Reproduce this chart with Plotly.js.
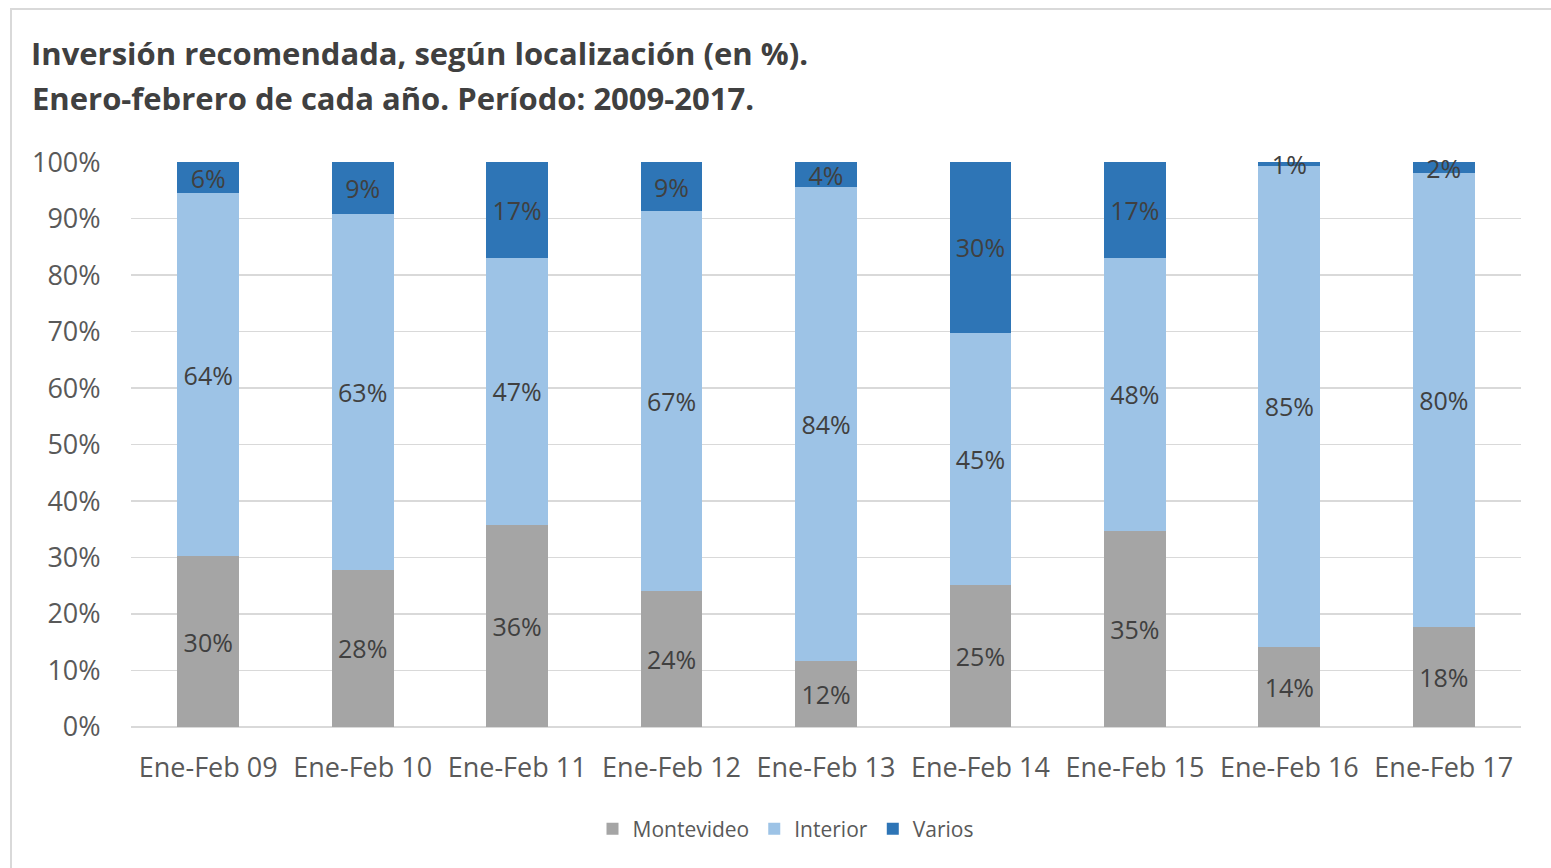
<!DOCTYPE html>
<html>
<head>
<meta charset="utf-8">
<script src="https://cdn.plot.ly/plotly-3.0.1.min.js"></script>
<style>
html,body{margin:0;padding:0;overflow:hidden;background:#fff;}
#chart{width:1551px;height:868px;}
#frame{position:absolute;left:10px;top:8px;width:1560px;height:880px;border:2px solid #d9d9d9;pointer-events:none;box-sizing:border-box;}
</style>
</head>
<body>
<div id="chart"></div>
<div id="frame"></div>
<script>
const categories = ["Ene-Feb 09","Ene-Feb 10","Ene-Feb 11","Ene-Feb 12","Ene-Feb 13","Ene-Feb 14","Ene-Feb 15","Ene-Feb 16","Ene-Feb 17"];
const montevideo = [30.2, 27.8, 35.8, 24.1, 11.6, 25.1, 34.7, 14.2, 17.7];
const interior   = [64.3, 63.0, 47.3, 67.2, 84.0, 44.7, 48.4, 85.2, 80.3];
const varios     = [5.5, 9.2, 16.9, 8.7, 4.4, 30.2, 16.9, 0.6, 2.0];
const seriesNames = ["Montevideo", "Interior", "Varios"];
const yTickVals = [0,10,20,30,40,50,60,70,80,90,100];
const yTickText = yTickVals.map(v => v + "%");

const FONT = "Open Sans, Noto Sans, sans-serif";
const colors = ["#a5a5a5", "#9dc3e6", "#2e75b6"];
const data = [montevideo, interior, varios].map((vals, i) => ({
  type: "bar",
  name: seriesNames[i],
  x: categories,
  y: vals,
  texttemplate: "%{y:.0f}%",
  textposition: "inside",
  insidetextanchor: "middle",
  textangle: 0,
  constraintext: "none",
  cliponaxis: false,
  textfont: {family: FONT, size: 25, color: "#404040"},
  marker: {color: colors[i], line: {width: 0}},
  hoverinfo: "skip"
}));

const layout = {
  width: 1551, height: 868,
  barmode: "stack",
  bargap: 0.6,
  paper_bgcolor: "#ffffff",
  plot_bgcolor: "#ffffff",
  margin: {l: 131, r: 30, t: 162, b: 141},
  font: {family: FONT, color: "#595959"},
  title: {
    text: "<b>Inversión recomendada, según localización (en %).</b>",
    font: {family: FONT, size: 31, color: "#404040"},
    x: 31/1551, xanchor: "left", xref: "container",
    y: 1 - 54/868, yanchor: "middle", yref: "container"
  },
  annotations: [{
    text: "<b>Enero-febrero de cada año. Período: 2009-2017.</b>",
    font: {family: FONT, size: 31, color: "#404040"},
    xref: "paper", yref: "paper",
    x: (30-131)/1390, xanchor: "left",
    y: (727-98)/565, yanchor: "middle",
    showarrow: false
  }],
  xaxis: {
    tickvals: categories,
    ticks: "outside", ticklen: 17, tickcolor: "rgba(0,0,0,0)",
    tickfont: {family: FONT, size: 27, color: "#595959"},
    showgrid: false, zeroline: false,
    showline: false,
    fixedrange: true
  },
  yaxis: {
    range: [0, 100.02],
    tickvals: yTickVals, ticktext: yTickText,
    ticks: "outside", ticklen: 24, tickcolor: "rgba(0,0,0,0)",
    tickfont: {family: FONT, size: 27, color: "#595959"},
    gridcolor: "#d9d9d9", gridwidth: 1.5,
    zeroline: true, zerolinecolor: "#d9d9d9", zerolinewidth: 1.5,
    fixedrange: true
  },
  legend: {
    orientation: "h",
    x: (786-131)/1390, xanchor: "center",
    y: -(829-727)/565, yanchor: "middle",
    font: {family: FONT, size: 21, color: "#595959"},
    itemwidth: 30,
    traceorder: "normal",
    itemclick: false
  },
  showlegend: true
};

Plotly.newPlot("chart", data, layout, {displayModeBar: false, staticPlot: true});
</script>
</body>
</html>
